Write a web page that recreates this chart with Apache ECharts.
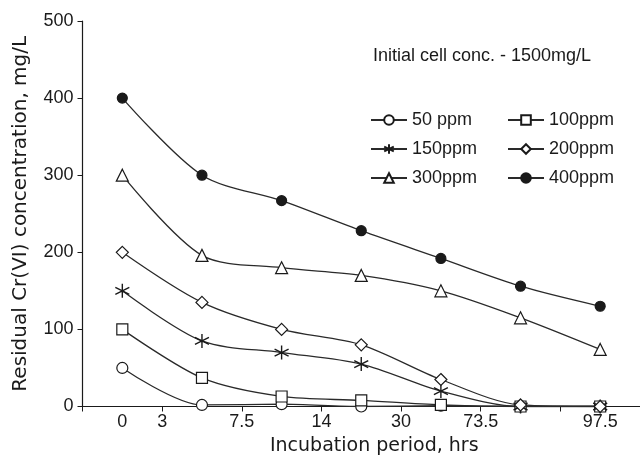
<!DOCTYPE html>
<html><head><meta charset="utf-8">
<script src="https://cdn.jsdelivr.net/npm/echarts@6/dist/echarts.min.js"></script>
<style>html,body{margin:0;padding:0;background:#fff}#c{width:640px;height:462px}</style>
</head><body><div id="c"></div>
<script>
// Sampling points (category slots on the x axis)
const samplePoints = ['S1','S2','S3','S4','S5','S6','S7'];
// Tick labels printed under the x axis and where they sit (in category-slot units)
const tickLabels = ['0','3','7.5','14','30','73.5','97.5'];
const tickLabelPos = [0.5,1,2,3,4,5,6.5];
// Residual Cr(VI), mg/L
const s50  = [50, 2, 3, 0, 1, 0, 0];
const s100 = [100, 37, 13, 8, 2, 0, 0];
const s150 = [150, 85, 70, 55, 20, 0, 0];
const s200 = [200, 135, 100, 80, 35, 2, 0];
const s300 = [300, 196, 180, 170, 150, 115, 74];
const s400 = [400, 300, 267, 228, 192, 156, 130];
const seriesNames = ['50 ppm','100ppm','150ppm','200ppm','300ppm','400ppm'];

const INK = '#1a1a1a';
const FONT = 'Liberation Sans, Arial, sans-serif';
const WIDE = 'DejaVu Sans, sans-serif';
const star = 'path://M5,0L5,10M0.67,2.5L9.33,7.5M0.67,7.5L9.33,2.5';
const diamond = 'path://M5,0L10,5L5,10L0,5Z';

function mk(name, data, symbol, size, fill, bw) {
  return {
    name, type: 'line', data, xAxisIndex: 0, yAxisIndex: 0,
    smooth: 0.3, symbol, symbolSize: size, showSymbol: true,
    lineStyle: { color: '#2a2a2a', width: 1.3 },
    itemStyle: { color: fill, borderColor: INK, borderWidth: bw || 1.2 },
    emphasis: { disabled: true }, animation: false, z: 2
  };
}

const legendText = { fontSize: 18, color: INK, fontFamily: FONT };
const chart = echarts.init(document.getElementById('c'), null, { renderer: 'canvas' });
chart.setOption({
  animation: false,
  textStyle: { fontFamily: FONT, color: INK },
  grid: { left: 82.5, right: -3, top: 21, bottom: 55.5, containLabel: false },
  title: {
    text: 'Initial cell conc. - 1500mg/L', left: 368, top: 42,
    textStyle: { fontSize: 18, fontWeight: 'normal', color: INK, fontFamily: FONT }
  },
  legend: [
    { data: [seriesNames[0], seriesNames[2], seriesNames[4]], orient: 'vertical', left: 365, top: 106,
      itemWidth: 36, itemHeight: 12, itemGap: 11, textStyle: legendText },
    { data: [seriesNames[1], seriesNames[3], seriesNames[5]], orient: 'vertical', left: 502, top: 106,
      itemWidth: 36, itemHeight: 12, itemGap: 11, textStyle: legendText }
  ],
  xAxis: [
    { type: 'category', data: samplePoints, boundaryGap: true, position: 'bottom',
      axisLine: { lineStyle: { color: INK, width: 1.2 } },
      axisTick: { show: true, length: 5, lineStyle: { color: INK } },
      axisLabel: { show: false }, splitLine: { show: false } },
    { type: 'value', min: 0, max: 7, position: 'bottom',
      axisLine: { show: false }, axisTick: { show: false }, splitLine: { show: false },
      axisLabel: { customValues: tickLabelPos, margin: 7, fontSize: 18, color: INK, fontFamily: FONT,
        formatter: v => tickLabels[tickLabelPos.indexOf(v)] },
      name: 'Incubation period, hrs', nameLocation: 'middle', nameGap: 30,
      nameTextStyle: { fontSize: 19, color: INK, fontFamily: WIDE, padding: [0, 0, 0, 26] } }
  ],
  yAxis: {
    type: 'value', min: 0, max: 500, interval: 100,
    axisLine: { show: true, lineStyle: { color: INK, width: 1.2 } },
    axisTick: { show: true, length: 5, lineStyle: { color: INK } },
    splitLine: { show: false },
    axisLabel: { fontSize: 18, margin: 9, color: INK, fontFamily: FONT },
    name: 'Residual Cr(VI) concentration, mg/L', nameLocation: 'middle', nameGap: 52, nameRotate: 90,
    nameTextStyle: { fontSize: 20, color: INK, fontFamily: WIDE }
  },
  series: [
    mk(seriesNames[0], s50, 'circle', 11, '#fff'),
    mk(seriesNames[1], s100, 'rect', 11, '#fff'),
    mk(seriesNames[2], s150, star, 14, '#fff', 1.4),
    mk(seriesNames[3], s200, diamond, 12, '#fff'),
    mk(seriesNames[4], s300, 'triangle', 12, '#fff'),
    mk(seriesNames[5], s400, 'circle', 10, INK)
  ]
});
</script></body></html>
